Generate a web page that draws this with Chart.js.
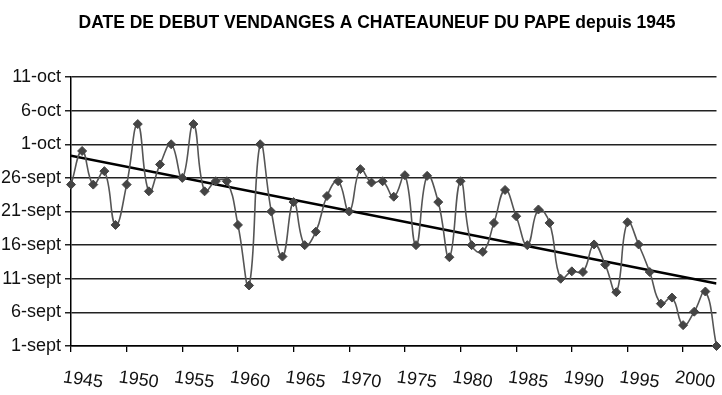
<!DOCTYPE html>
<html>
<head>
<meta charset="utf-8">
<script src="https://cdn.jsdelivr.net/npm/chart.js@4"></script>
<style>
  html, body { margin: 0; padding: 0; background: #fff; }
  #wrap { width: 722px; height: 395px; }
</style>
</head>
<body>
<div id="wrap"><canvas id="vendanges" width="722" height="395"></canvas></div>
<script>
// day counted from 1 september (31 = 1-oct)
const years = [];
for (let y = 1945; y <= 2003; y++) years.push(y);

const startDay = [
  25, 30, 25, 27, 19, 25, 34, 24, 28, 31,
  26, 34, 24, 25.5, 25.5, 19, 10, 31, 21, 14.3,
  22.4, 16, 18, 23.3, 25.5, 21, 27.3, 25.3, 25.5, 23.2,
  26.4, 16, 26.3, 22.4, 14.2, 25.5, 16, 15, 19.3, 24.2,
  20.3, 16, 21.3, 19.3, 11, 12.1, 12, 16.1, 13.1, 9,
  19.4, 16.1, 12, 7.3, 8.2, 4.1, 6.1, 9.1, 1
];

// trend line ends
const trendYears = [1945, 2003];
const trendDays = [29.3, 10.3];

const dayTicks = [1, 6, 11, 16, 21, 26, 31, 36, 41];
const yearTicks = [1945, 1950, 1955, 1960, 1965, 1970, 1975, 1980, 1985, 1990, 1995, 2000];

const titleText = "DATE DE DEBUT VENDANGES A CHATEAUNEUF DU PAPE depuis 1945";

function dayLabel(v) {
  return v <= 30 ? v + "-sept" : (v - 30) + "-oct";
}

// title sits a bit right of centre and the x labels slant downward,
// so both are drawn by hand
const extraText = {
  id: "extraText",
  afterDraw(chart) {
    const x = chart.scales.x;
    const ctx = chart.ctx;
    ctx.save();
    ctx.fillStyle = "#000";
    ctx.textAlign = "center";
    ctx.textBaseline = "middle";
    ctx.font = "bold 17.5px 'Liberation Sans', Arial, sans-serif";
    ctx.fillText(titleText, 377, 23);

    ctx.fillStyle = "#111";
    ctx.font = "18px 'Liberation Sans', Arial, sans-serif";
    yearTicks.forEach(function (yr) {
      const px = x.getPixelForValue(yr);
      ctx.save();
      ctx.translate(px + 12, 380);
      ctx.rotate(8 * Math.PI / 180);
      ctx.fillText(String(yr), 0, 0);
      ctx.restore();
    });
    ctx.restore();
  }
};

const ctx = document.querySelector("#vendanges");

const chart = new Chart(ctx, {
  type: "line",
  data: {
    datasets: [{
      label: "date de debut",
      data: years.map((y, i) => ({ x: y, y: startDay[i] })),
      borderColor: "#555",
      borderWidth: 1.6,
      tension: 0.45,
      pointStyle: "rectRot",
      pointRadius: 4.5,
      pointBackgroundColor: "#444",
      pointBorderColor: "#444",
      pointBorderWidth: 1,
      clip: false
    }, {
      label: "tendance",
      data: trendYears.map((y, i) => ({ x: y, y: trendDays[i] })),
      borderColor: "#000",
      borderWidth: 2.6,
      pointRadius: 0,
      tension: 0
    }]
  },
  options: {
    responsive: false,
    animation: false,
    layout: { padding: { left: 0, right: 5, top: 77, bottom: 0 } },
    plugins: {
      legend: { display: false },
      tooltip: { enabled: false },
      title: { display: false }
    },
    scales: {
      x: {
        type: "linear",
        min: 1945,
        max: 2003,
        afterFit: (s) => { s.height = 49; },
        afterBuildTicks: (s) => { s.ticks = yearTicks.map(v => ({ value: v })); },
        ticks: { display: false },
        grid: { drawOnChartArea: false, drawTicks: true, tickLength: 6, color: "#000", lineWidth: 1.3 },
        border: { color: "#000", width: 1.5 }
      },
      y: {
        min: 1,
        max: 41,
        afterFit: (s) => { s.width = 71; },
        afterBuildTicks: (s) => { s.ticks = dayTicks.map(v => ({ value: v })); },
        ticks: {
          callback: (v) => dayLabel(v),
          color: "#111",
          padding: 4,
          font: { family: "'Liberation Sans', Arial, sans-serif", size: 18 }
        },
        grid: { color: "#222", lineWidth: 1.5, drawTicks: true, tickLength: 6 },
        border: { color: "#000", width: 1.5 }
      }
    }
  },
  plugins: [extraText]
});
</script>
</body>
</html>
